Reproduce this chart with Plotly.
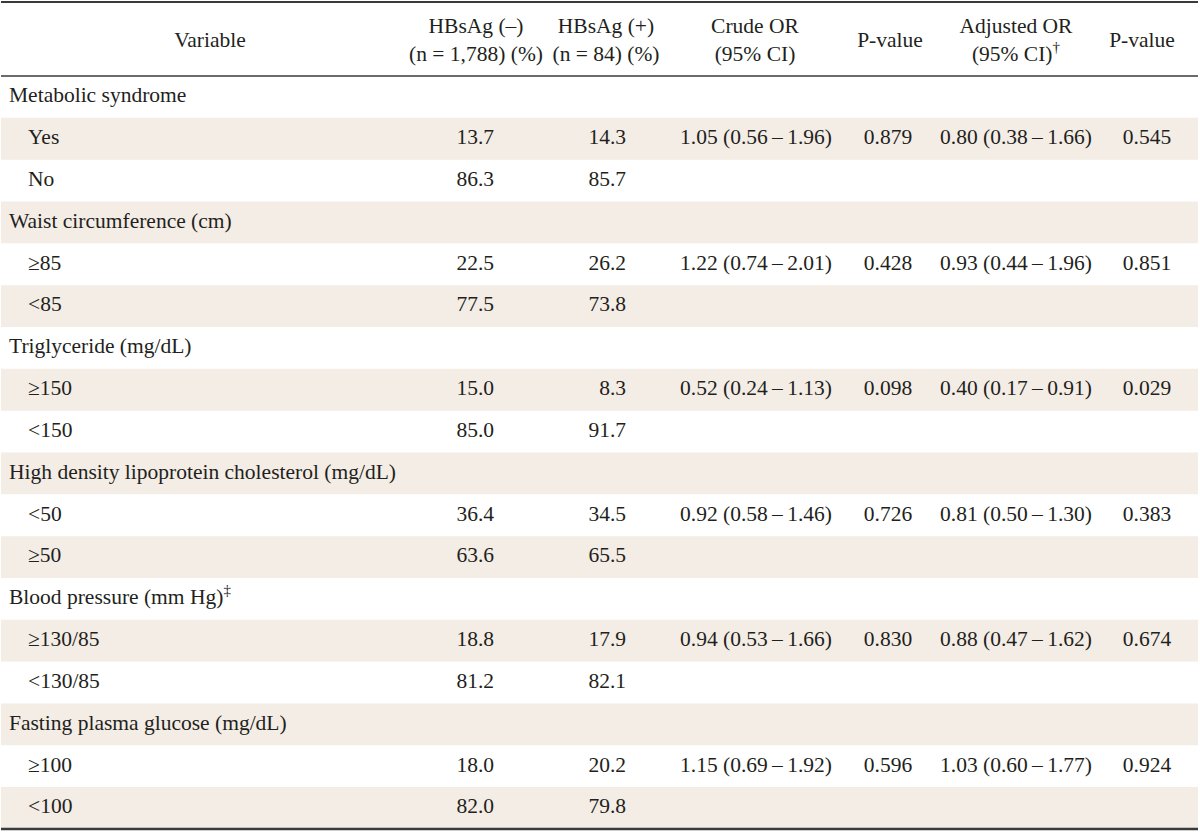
import plotly.graph_objects as go

# ---------------- data ----------------
groups = [
    "Metabolic syndrome",
    "Waist circumference (cm)",
    "Triglyceride (mg/dL)",
    "High density lipoprotein cholesterol (mg/dL)",
    "Blood pressure (mm Hg)<sup>‡</sup>",
    "Fasting plasma glucose (mg/dL)",
]
levels = [
    ["Yes", "No"],
    ["≥85", "&lt;85"],
    ["≥150", "&lt;150"],
    ["&lt;50", "≥50"],
    ["≥130/85", "&lt;130/85"],
    ["≥100", "&lt;100"],
]
hbsag_neg_pct = [[13.7, 86.3], [22.5, 77.5], [15.0, 85.0], [36.4, 63.6], [18.8, 81.2], [18.0, 82.0]]
hbsag_pos_pct = [[14.3, 85.7], [26.2, 73.8], [8.3, 91.7], [34.5, 65.5], [17.9, 82.1], [20.2, 79.8]]
crude_or = [1.05, 1.22, 0.52, 0.92, 0.94, 1.15]
crude_lo = [0.56, 0.74, 0.24, 0.58, 0.53, 0.69]
crude_hi = [1.96, 2.01, 1.13, 1.46, 1.66, 1.92]
crude_p = [0.879, 0.428, 0.098, 0.726, 0.830, 0.596]
adj_or = [0.80, 0.93, 0.40, 0.81, 0.88, 1.03]
adj_lo = [0.38, 0.44, 0.17, 0.50, 0.47, 0.60]
adj_hi = [1.66, 1.96, 0.91, 1.30, 1.62, 1.77]
adj_p = [0.545, 0.851, 0.029, 0.383, 0.674, 0.924]

headers = [
    "Variable",
    "HBsAg (–)<br>(n = 1,788) (%)",
    "HBsAg (+)<br>(n = 84) (%)",
    "Crude OR<br>(95% CI)",
    "P-value",
    "Adjusted OR<br>(95% CI)<sup>†</sup>",
    "P-value",
]

# ---------------- build rows ----------------
TS = "\u2009"
def ci(o, l, h):
    return f"{o:.2f} ({l:.2f}{TS}–{TS}{h:.2f})"

# columns: 0 = group label, 1 = level label, 2..7 = values
n_cols = 8
cells = [[] for _ in range(n_cols)]   # list of (row, text) per column
r = 0
for g in range(len(groups)):
    cells[0].append((r, groups[g]))
    r += 1
    for k in range(2):
        cells[1].append((r, levels[g][k]))
        cells[2].append((r, f"{hbsag_neg_pct[g][k]:.1f}"))
        cells[3].append((r, f"{hbsag_pos_pct[g][k]:.1f}"))
        if k == 0:
            cells[4].append((r, ci(crude_or[g], crude_lo[g], crude_hi[g])))
            cells[5].append((r, f"{crude_p[g]:.3f}"))
            cells[6].append((r, ci(adj_or[g], adj_lo[g], adj_hi[g])))
            cells[7].append((r, f"{adj_p[g]:.3f}"))
        r += 1
n_rows = r

# ---------------- layout constants ----------------
W, H = 1200, 833
ROW_PX = 41.83
TOP_PX = 76          # header bottom rule, pixels from top
HEADER_ROWS = 74 / ROW_PX
TABLE_X0, TABLE_X1 = 1, 1198
FONT = "Liberation Serif"
FS = 21.5
TXT = "#231f20"
SHADE = "#f4ede6"
RULE = "#3a3a3a"

y_top = -0.5 - TOP_PX / ROW_PX
y_bottom = y_top + H / ROW_PX
header_y = -0.5 - HEADER_ROWS / 2 + 3 / ROW_PX

# body column anchors: (x, textposition)
body_specs = [
    (9, "middle right"),
    (28, "middle right"),
    (494, "middle left"),
    (626, "middle left"),
    (756, "middle center"),
    (888, "middle center"),
    (1016, "middle center"),
    (1147, "middle center"),
]
header_x = [210, 476, 606, 755, 890, 1016, 1142]

fig = go.Figure()
for c, (x, pos) in enumerate(body_specs):
    ys = [rr for rr, _ in cells[c]]
    ts = [t for _, t in cells[c]]
    fig.add_trace(go.Scatter(
        x=[x] * len(ys), y=ys, text=ts, mode="text", textposition=pos,
        textfont=dict(family=FONT, size=FS, color=TXT),
        hoverinfo="skip", showlegend=False, cliponaxis=False,
    ))

fig.add_trace(go.Scatter(
    x=header_x, y=[header_y] * len(headers), text=headers,
    mode="text", textposition="middle center",
    textfont=dict(family=FONT, size=FS, color=TXT),
    hoverinfo="skip", showlegend=False, cliponaxis=False,
))

shapes = []
for i in range(n_rows):
    if i % 2 == 1:
        shapes.append(dict(type="rect", xref="x", yref="y", x0=TABLE_X0, x1=TABLE_X1,
                           y0=i - 0.5, y1=i + 0.5, fillcolor=SHADE, line=dict(width=0),
                           layer="below"))
for yv, w in [(-0.5 - HEADER_ROWS, 2.2), (-0.5, 1.6), (n_rows - 0.5, 2.4)]:
    shapes.append(dict(type="line", xref="x", yref="y", x0=TABLE_X0, x1=TABLE_X1,
                       y0=yv, y1=yv, line=dict(color=RULE, width=w), layer="above"))

fig.update_layout(
    width=W, height=H, margin=dict(l=0, r=0, t=0, b=0),
    paper_bgcolor="white", plot_bgcolor="white",
    xaxis=dict(range=[0, W], visible=False, fixedrange=True),
    yaxis=dict(range=[y_bottom, y_top], visible=False, fixedrange=True),
    shapes=shapes,
)

fig.write_html(
    "out.html",
    config={"displayModeBar": False},
    post_script="document.body.style.margin='0';document.body.style.overflow='hidden';",
)
